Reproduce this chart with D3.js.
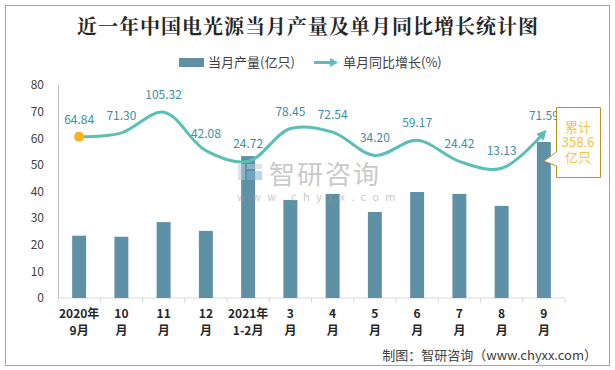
<!DOCTYPE html>
<html>
<head>
<meta charset="utf-8">
<script src="https://cdn.jsdelivr.net/npm/d3@7"></script>
<style>
  body { margin: 0; background: #fff; }
  svg { display: block; }
</style>
</head>
<body>
<div id="viz"></div>
<script>
var months = ['2020年|9月', '10|月', '11|月', '12|月', '2021年|1-2月', '3|月', '4|月', '5|月', '6|月', '7|月', '8|月', '9|月'];
var output = [23.4, 23.0, 28.5, 25.2, 53.3, 36.8, 39.1, 32.3, 39.8, 39.1, 34.6, 58.6];
var growth = [64.84, 71.30, 105.32, 42.08, 24.72, 78.45, 72.54, 34.20, 59.17, 24.42, 13.13, 71.59];
var yTicks = [0, 10, 20, 30, 40, 50, 60, 70, 80];

var width = 615,
    height = 370,
    plotLeft = 58,
    plotRight = 565,
    plotTop = 85,
    plotBottom = 298;

var svg = d3.select('#viz').append('svg')
    .attr('width', width)
    .attr('height', height);

// outer frame
svg.append('rect')
    .attr('x', 5.5).attr('y', 5.5)
    .attr('width', 604).attr('height', 360)
    .style('fill', '#fff')
    .style('stroke', '#a6a6a6');

svg.append('text')
    .attr('x', 308).attr('y', 34)
    .attr('text-anchor', 'middle')
    .style('font-family', '"Noto Serif CJK SC", "Noto Sans CJK SC", serif')
    .style('font-size', '20px')
    .style('font-weight', 'bold')
    .style('letter-spacing', '1px')
    .style('fill', '#262626')
    .text('近一年中国电光源当月产量及单月同比增长统计图');

var xScale = d3.scaleBand()
    .domain(months)
    .range([plotLeft, plotRight]);

var yScale = d3.scaleLinear()
    .domain([0, 80])
    .range([plotBottom, plotTop]);

// growth line sits on a hidden right axis
var y2Scale = d3.scaleLinear()
    .domain([-200, 150])
    .range([plotBottom, plotTop]);

var font = '"Noto Sans CJK SC", "Microsoft YaHei", sans-serif';

// legend
var legend = svg.append('g').style('font-family', font).style('font-size', '13px').style('fill', '#404040');
legend.append('rect')
    .attr('x', 179).attr('y', 58).attr('width', 25).attr('height', 9)
    .style('fill', '#5e90a6');
legend.append('text').attr('x', 208).attr('y', 67).text('当月产量(亿只)');
legend.append('line')
    .attr('x1', 314).attr('x2', 332).attr('y1', 62.5).attr('y2', 62.5)
    .style('stroke', '#5bbfb5').style('stroke-width', 3);
legend.append('path')
    .attr('d', 'M330,58 L338,62.5 L330,67 Z')
    .style('fill', '#5bbfb5');
legend.append('text').attr('x', 343).attr('y', 67).text('单月同比增长(%)');

// axes
var yAxis = svg.append('g')
    .attr('transform', 'translate(' + plotLeft + ',0)')
    .call(d3.axisLeft(yScale).tickValues(yTicks).tickSize(0).tickPadding(14));
yAxis.select('.domain').style('stroke', '#bfbfbf');
yAxis.selectAll('text')
    .style('font-family', font)
    .style('font-size', '12px')
    .style('fill', '#404040');

var xAxis = svg.append('g')
    .attr('transform', 'translate(0,' + plotBottom + ')');
xAxis.append('line')
    .attr('x1', plotLeft).attr('x2', plotRight)
    .style('stroke', '#d9d9d9');
xAxis.selectAll('.tick').data(months.concat(['end']))
    .enter().append('line')
    .attr('x1', function(d, i) { return plotLeft + i * xScale.bandwidth(); })
    .attr('x2', function(d, i) { return plotLeft + i * xScale.bandwidth(); })
    .attr('y1', 0).attr('y2', 5)
    .style('stroke', '#d9d9d9');
var xl = xAxis.selectAll('.xl').data(months)
    .enter().append('text')
    .attr('text-anchor', 'middle')
    .attr('transform', function(d) {
        return 'translate(' + (xScale(d) + xScale.bandwidth() / 2) + ',0)';
    })
    .style('font-family', font)
    .style('font-size', '12px')
    .style('font-weight', 'bold')
    .style('fill', '#262626');
xl.append('tspan').attr('x', 0).attr('y', 20)
    .text(function(d) { return d.split('|')[0]; });
xl.append('tspan').attr('x', 0).attr('y', 37)
    .text(function(d) { return d.split('|')[1]; });

// bars
var barWidth = xScale.bandwidth() * 0.33;
svg.selectAll('.bar').data(output)
    .enter().append('rect')
    .style('fill', '#5e90a6')
    .attr('width', barWidth)
    .attr('height', function(d) { return plotBottom - yScale(d); })
    .attr('x', function(d, i) {
        return xScale(months[i]) + (xScale.bandwidth() - barWidth) / 2;
    })
    .attr('y', function(d) { return yScale(d); });

// watermark
var wm = svg.append('g').style('opacity', 0.55);
wm.append('rect').attr('x', 238).attr('y', 164).attr('width', 7).attr('height', 16).style('fill', '#b8cfe0');
wm.append('rect').attr('x', 247).attr('y', 164).attr('width', 15).attr('height', 5).style('fill', '#b8cfe0');
wm.append('rect').attr('x', 247).attr('y', 171).attr('width', 15).attr('height', 9).style('fill', '#7fb3d8');
wm.append('text')
    .attr('x', 269).attr('y', 184)
    .style('font-family', font)
    .style('font-size', '26px')
    .style('letter-spacing', '2px')
    .style('fill', '#a0a0a0')
    .text('智研咨询');
wm.append('text')
    .attr('x', 237).attr('y', 201)
    .style('font-family', font)
    .style('font-size', '11px')
    .style('letter-spacing', '6.3px')
    .style('fill', '#a0a0a0')
    .text('www.chyxx.com');

// growth line
var cx = function(d, i) { return xScale(months[i]) + xScale.bandwidth() / 2; };
var line = d3.line()
    .x(cx)
    .y(function(d) { return y2Scale(d); })
    .curve(d3.curveCatmullRom.alpha(0.5));

svg.append('defs').append('marker')
    .attr('id', 'arrow')
    .attr('viewBox', '0 0 10 10')
    .attr('refX', 6).attr('refY', 5)
    .attr('markerWidth', 3.4).attr('markerHeight', 3.4)
    .attr('orient', 'auto')
  .append('path')
    .attr('d', 'M0,0 L10,5 L0,10 Z')
    .style('fill', '#5bbfb5');

svg.append('path')
    .datum(growth)
    .attr('d', line)
    .style('fill', 'none')
    .style('stroke', '#5bbfb5')
    .style('stroke-width', 3)
    .attr('marker-end', 'url(#arrow)');

svg.append('circle')
    .attr('cx', cx(growth[0], 0))
    .attr('cy', y2Scale(growth[0]))
    .attr('r', 5)
    .style('fill', '#f5b31f');

svg.selectAll('.lbl').data(growth)
    .enter().append('text')
    .attr('x', cx)
    .attr('y', function(d) { return y2Scale(d) - 13; })
    .attr('text-anchor', 'middle')
    .style('font-family', font)
    .style('font-size', '12px')
    .style('fill', '#3a8fa3')
    .text(function(d) { return d.toFixed(2); });

// total callout
svg.append('path')
    .attr('d', 'M556.5,107.5 L600.5,107.5 L600.5,177.5 L556.5,177.5 L556.5,166 L544,161 L556.5,152 Z')
    .style('fill', '#fff')
    .style('stroke', '#c09020');
var note = svg.append('text')
    .attr('text-anchor', 'middle')
    .style('font-family', font)
    .style('font-size', '13px')
    .style('fill', '#f5c242');
['累计', '358.6', '亿只'].forEach(function(t, i) {
    note.append('tspan').attr('x', 578).attr('y', 132 + i * 15).text(t);
});

svg.append('text')
    .attr('x', 597).attr('y', 360)
    .attr('text-anchor', 'end')
    .style('font-family', font)
    .style('font-size', '13px')
    .style('fill', '#404040')
    .text('制图：智研咨询（www.chyxx.com）');
</script>
</body>
</html>
